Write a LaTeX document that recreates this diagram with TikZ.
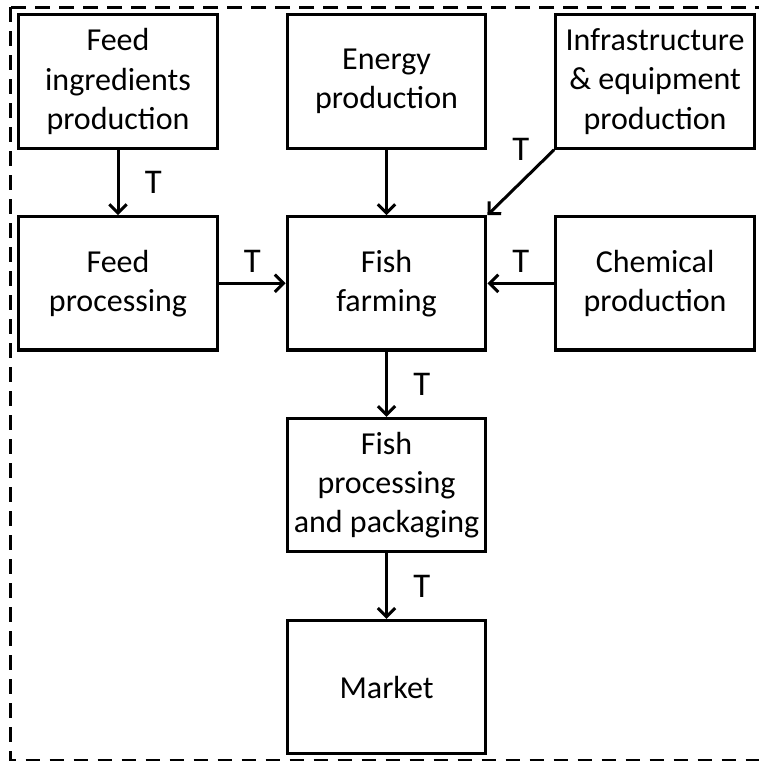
\documentclass[tikz,border=0pt]{standalone}
\usepackage{fontspec}
\setmainfont{Carlito}
\usepackage{tikz}
\usetikzlibrary{arrows.meta,positioning}
\definecolor{fishInk}{HTML}{000000}
\tikzset{
  chainbox/.style={rectangle, draw=fishInk, line width=2.4pt, fill=white,
    minimum width=149pt, minimum height=100pt, align=center,
    font=\fontsize{24}{29.5}\selectfont, inner sep=2pt},
  chainline/.style={-{Straight Barb[length=6.5pt, width=13pt]}, draw=fishInk, line width=2.25pt},
  edgelab/.style={font=\fontsize{26}{30}\selectfont, inner sep=0pt, text=fishInk},
  borderline/.style={draw=fishInk, line width=2.25pt, dash pattern=on 11pt off 7pt}
}
\begin{document}
\begin{tikzpicture}[node distance=49pt and 50pt]
\useasboundingbox (0,0) rectangle (568.5pt,-570.75pt);
% system boundary
\draw[borderline] (7.9pt,-5.3pt) rectangle (574pt,-570pt);

\node[chainbox] (feedin) at (88.5pt,-61.1pt) {Feed\\ingredients\\production};
\node[chainbox, right=of feedin] (energy) {Energy\\production};
\node[chainbox, right=of energy] (infra) {Infrastructure\\\& equipment\\production};
\node[chainbox, below=of feedin] (feedproc) {Feed\\processing};
\node[chainbox, below=of energy] (farm) {Fish\\farming};
\node[chainbox, below=of infra] (chem) {Chemical\\production};
\node[chainbox, below=of farm] (fishproc) {Fish\\processing\\and packaging};
\node[chainbox, below=of fishproc] (market) {Market};

\draw[chainline] (feedin) -- node[edgelab, right=19pt]{T} (feedproc);
\draw[chainline] (energy) -- (farm);
\draw[chainline] (infra.south west) -- node[edgelab, above=15pt]{T} (farm.north east);
\draw[chainline] (feedproc) -- node[edgelab, above=7pt]{T} (farm);
\draw[chainline] (chem) -- node[edgelab, above=7pt]{T} (farm);
\draw[chainline] (farm) -- node[edgelab, right=19pt]{T} (fishproc);
\draw[chainline] (fishproc) -- node[edgelab, right=19pt]{T} (market);
\end{tikzpicture}
\end{document}
